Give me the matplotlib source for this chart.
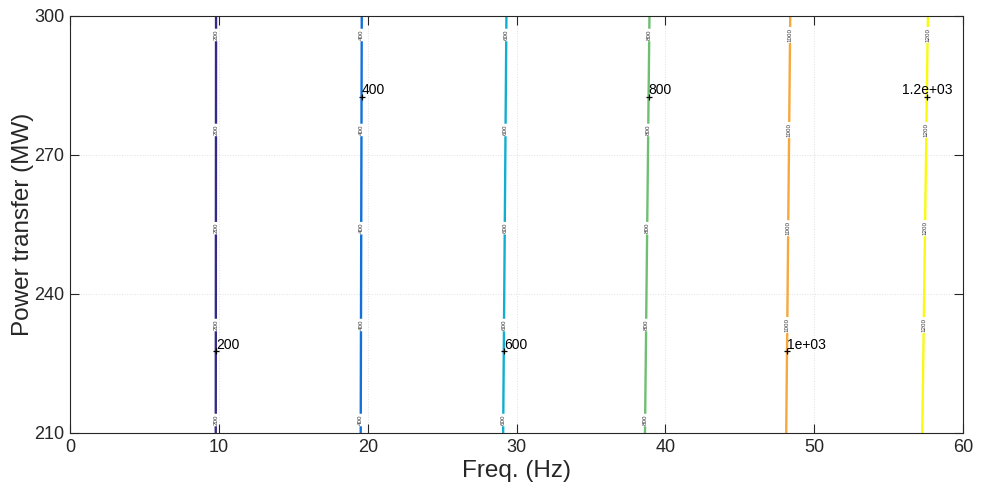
import numpy as np
import matplotlib
matplotlib.use("Agg")
import matplotlib.pyplot as plt

# contour levels and where each one crosses the bottom / top of the plot
levels     = [200, 400, 600, 800, 1000, 1200]
power_rows = [210, 300]
freq_210   = [9.79, 19.53, 29.10, 38.63, 48.12, 57.26]
freq_300   = [9.81, 19.60, 29.32, 38.93, 48.39, 57.64]

# small inline labels along each line
small_label_y     = [295.9, 275.4, 254.2, 233.3, 212.8]
small_label_count = [5, 5, 5, 5, 4, 4]

# big clabel text with "+" markers
big_labels  = ['200', '400', '600', '800', '1e+03', '1.2e+03']
big_label_y = [227.6, 282.6, 227.6, 282.6, 227.6, 282.6]

xticks = [0, 10, 20, 30, 40, 50, 60]
yticks = [210, 240, 270, 300]

line_colors = ['#352a87', '#1170da', '#12aed0', '#6fbf72', '#f7a83c', '#f9fb0e']
ax_color = '#262626'

plt.rcParams['font.family'] = ['Liberation Sans', 'DejaVu Sans']


def crossing(i, p):
    return np.interp(p, power_rows, [freq_210[i], freq_300[i]])


# build the field on a grid from the measured crossings
freq = np.linspace(0, 60, 601)
power = np.linspace(power_rows[0], power_rows[1], 91)
Z = np.zeros((len(power), len(freq)))
for r in range(len(power)):
    xs = [0] + [crossing(i, power[r]) for i in range(len(levels))] + [62]
    zs = [0] + levels + [1300]
    Z[r, :] = np.interp(freq, xs, zs)

fig = plt.figure(figsize=(9.81, 4.95), dpi=100)
ax = fig.add_axes([0.0714, 0.1253, 0.9103, 0.8424])

ax.grid(True, color='#e0e0e0', linestyle=':', linewidth=0.7)
ax.set_axisbelow(True)

cs = ax.contour(freq, power, Z, levels=levels, colors=line_colors, linewidths=1.7)

manual = []
for i in range(len(levels)):
    for p in small_label_y[:small_label_count[i]]:
        manual.append((crossing(i, p), p))
ax.clabel(cs, manual=manual, inline=True, inline_spacing=1, fontsize=4.5, fmt='%d',
          colors='#333333')

for i in range(len(levels)):
    x = crossing(i, big_label_y[i])
    ax.plot(x, big_label_y[i], '+', color='k', ms=5, mew=0.9, zorder=5)
    ha = 'center' if i == len(levels) - 1 else 'left'
    ax.text(x, big_label_y[i] + 0.6, big_labels[i], fontsize=10, ha=ha, va='baseline', zorder=6)

ax.set_xlim(0, 60)
ax.set_ylim(210, 300)
ax.set_xticks(xticks)
ax.set_yticks(yticks)
ax.tick_params(direction='in', length=6.5, width=0.8, colors=ax_color, labelsize=13,
               top=True, right=True, pad=4)
for s in ax.spines.values():
    s.set_color(ax_color)
    s.set_linewidth(0.8)

ax.set_xlabel('Freq. (Hz)', fontsize=17.5, color=ax_color, labelpad=3)
ax.set_ylabel('Power transfer (MW)', fontsize=17.5, color=ax_color, labelpad=0)

fig.savefig('out.png', dpi=100)
